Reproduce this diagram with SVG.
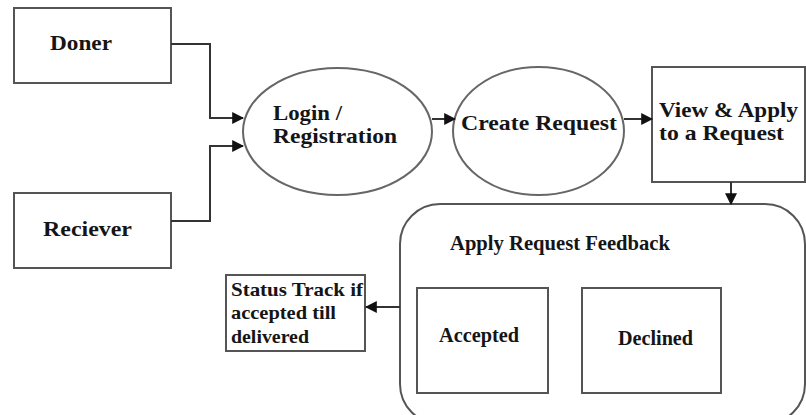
<svg xmlns="http://www.w3.org/2000/svg" width="806" height="415" viewBox="0 0 806 415">
<defs>
<style>
.box{fill:#fff;stroke:#555;stroke-width:2}
.ell{fill:#fff;stroke:#666;stroke-width:2}
.t{font-family:"Liberation Serif","Times New Roman",serif;font-weight:bold;font-size:21px;fill:#151515}
.s{font-size:19px}
.c{fill:none;stroke:#333;stroke-width:2}
</style>
<marker id="ah" viewBox="0 0 10 10" refX="9" refY="5" markerWidth="6" markerHeight="6" orient="auto" markerUnits="strokeWidth">
<path d="M0,0 L10,5 L0,10 z" fill="#111"/>
</marker>
</defs>
<rect width="806" height="415" fill="#fff"/>
<g id="doner">
<rect class="box" x="14" y="8" width="157" height="75"/>
<text class="t" x="50" y="50" textLength="62" lengthAdjust="spacingAndGlyphs">Doner</text>
</g>
<g id="reciever">
<rect class="box" x="14" y="193" width="157" height="75"/>
<text class="t" x="43" y="236" textLength="89" lengthAdjust="spacingAndGlyphs">Reciever</text>
</g>
<g id="login">
<ellipse class="ell" cx="337.5" cy="131.5" rx="94.5" ry="63.5"/>
<text class="t" x="273" y="120" textLength="69" lengthAdjust="spacingAndGlyphs">Login /</text>
<text class="t" x="273" y="143" textLength="124" lengthAdjust="spacingAndGlyphs">Registration</text>
</g>
<g id="create">
<ellipse class="ell" cx="538.5" cy="131" rx="85.5" ry="64"/>
<text class="t" x="461" y="130" textLength="156" lengthAdjust="spacingAndGlyphs">Create Request</text>
</g>
<g id="view">
<rect class="box" x="652" y="67" width="153" height="115"/>
<text class="t" x="659" y="117" textLength="139" lengthAdjust="spacingAndGlyphs">View &amp; Apply</text>
<text class="t" x="659" y="140" textLength="125" lengthAdjust="spacingAndGlyphs">to a Request</text>
</g>
<g id="feedback">
<rect class="box" x="400" y="204" width="405" height="220" rx="40" ry="40"/>
<text class="t" x="450" y="250" textLength="220" lengthAdjust="spacingAndGlyphs">Apply Request Feedback</text>
</g>
<g id="accepted">
<rect class="box" x="417" y="288" width="131" height="105"/>
<text class="t" x="439" y="342" textLength="80" lengthAdjust="spacingAndGlyphs">Accepted</text>
</g>
<g id="declined">
<rect class="box" x="582" y="288" width="139" height="105"/>
<text class="t" x="618" y="345" textLength="75" lengthAdjust="spacingAndGlyphs">Declined</text>
</g>
<g id="status">
<rect class="box" x="226" y="275" width="139" height="76"/>
<text class="t s" x="231" y="296" textLength="132" lengthAdjust="spacingAndGlyphs">Status Track if</text>
<text class="t s" x="231" y="319" textLength="105" lengthAdjust="spacingAndGlyphs">accepted till</text>
<text class="t s" x="231" y="343" textLength="78" lengthAdjust="spacingAndGlyphs">delivered</text>
</g>
<g id="connectors">
<path class="c" d="M171,44 H210 V118 H243" marker-end="url(#ah)"/>
<path class="c" d="M171,221 H210 V146 H243" marker-end="url(#ah)"/>
<path class="c" d="M432,119 H455" marker-end="url(#ah)"/>
<path class="c" d="M624,119 H652" marker-end="url(#ah)"/>
<path class="c" d="M731,182 V204" marker-end="url(#ah)"/>
<path class="c" d="M400,307 H366" marker-end="url(#ah)"/>
</g>
</svg>
